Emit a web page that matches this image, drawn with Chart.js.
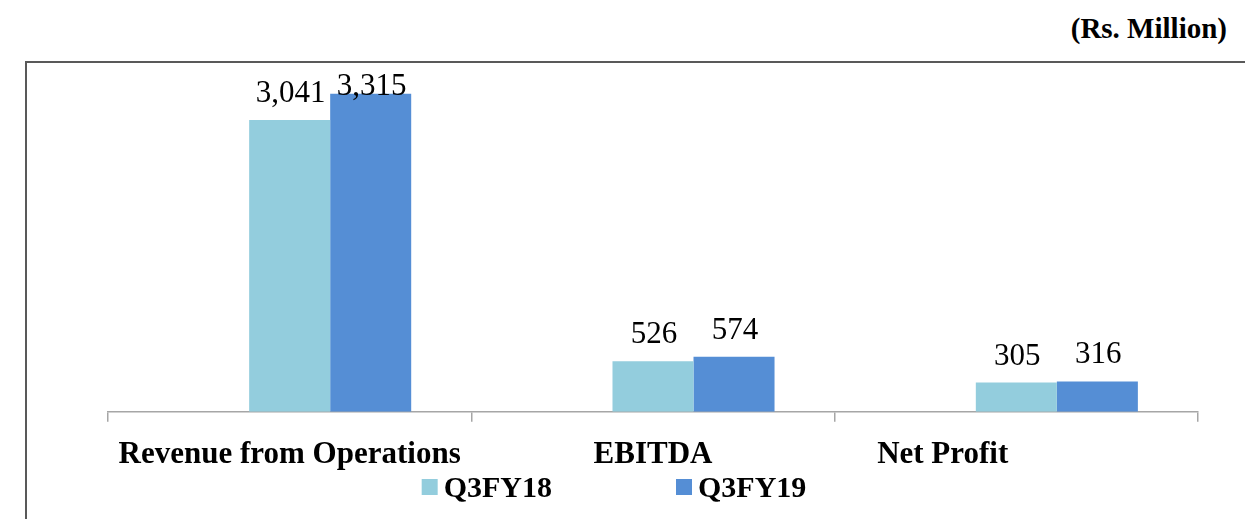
<!DOCTYPE html>
<html>
<head>
<meta charset="utf-8">
<script src="https://cdn.jsdelivr.net/npm/chart.js@4/dist/chart.umd.min.js"></script>
<style>
  html, body { margin: 0; padding: 0; background: #fff; overflow: hidden; }
  #wrap { position: relative; width: 1245px; height: 519px; }
  #frame {
    position: absolute; left: 25px; top: 61px; width: 1400px; height: 600px;
    border-left: 2px solid #595959; border-top: 2px solid #595959;
  }
  #unit {
    position: absolute; right: 18px; top: 14px;
    font: bold 29px/29px "Liberation Serif", "Times New Roman", serif; color: #000;
  }
  #chart { position: absolute; left: 0; top: 0; }
</style>
</head>
<body>
<div id="wrap">
  <div id="frame"></div>
  <div id="unit">(Rs. Million)</div>
  <canvas id="chart" width="1245" height="519"></canvas>
</div>
<script>
const categories = ['Revenue from Operations', 'EBITDA', 'Net Profit'];
const seriesNames = ['Q3FY18', 'Q3FY19'];
const q3fy18 = [3041, 526, 305];
const q3fy19 = [3315, 574, 316];
const seriesColors = ['#93cddd', '#558ed5'];

const serif = '"Liberation Serif", "Times New Roman", serif';

// value labels above each bar (pushed down when they would leave the plot)
const valueLabels = {
  id: 'valueLabels',
  afterDatasetsDraw(chart) {
    const ctx = chart.ctx;
    ctx.save();
    ctx.font = '31px ' + serif;
    ctx.fillStyle = '#000';
    ctx.textAlign = 'center';
    ctx.textBaseline = 'alphabetic';
    chart.data.datasets.forEach((ds, i) => {
      if (!ds.label) return;
      chart.getDatasetMeta(i).data.forEach((bar, j) => {
        const v = ds.data[j];
        let y = bar.y - 18;
        y = Math.max(y, chart.chartArea.top + 19);
        ctx.fillText(v.toLocaleString('en-US'), bar.x + 1, y);
      });
    });
    ctx.restore();
  }
};

// legend drawn by hand so the wide gap between items can be matched
const legendRow = {
  id: 'legendRow',
  afterDraw(chart) {
    const ctx = chart.ctx;
    ctx.save();
    ctx.font = 'bold 30px ' + serif;
    ctx.textBaseline = 'alphabetic';
    const box = 16, gap = 6, between = 124;
    const widths = seriesNames.map(n => box + gap + ctx.measureText(n).width);
    const total = widths.reduce((a, b) => a + b, 0) + between * (seriesNames.length - 1);
    let x = 614 - total / 2;
    const baseline = 497;
    seriesNames.forEach((n, i) => {
      ctx.fillStyle = seriesColors[i];
      ctx.fillRect(x, baseline - 18, box, box);
      ctx.fillStyle = '#000';
      ctx.fillText(n, x + box + gap, baseline);
      x += widths[i] + between;
    });
    ctx.restore();
  }
};

new Chart(document.getElementById('chart'), {
  type: 'bar',
  data: {
    labels: categories,
    datasets: [
      // empty leading series keeps the pair right of the category centre
      { label: '', data: [null, null, null], backgroundColor: 'transparent' },
      { label: seriesNames[0], data: q3fy18, backgroundColor: seriesColors[0] },
      { label: seriesNames[1], data: q3fy19, backgroundColor: seriesColors[1] }
    ]
  },
  options: {
    responsive: false,
    devicePixelRatio: 1,
    animation: false,
    categoryPercentage: 0.669,
    barPercentage: 1,
    layout: { padding: { left: 108, right: 47, top: 76, bottom: 30 } },
    plugins: {
      legend: { display: false },
      tooltip: { enabled: false }
    },
    scales: {
      y: { display: false, min: 0, max: 3500 },
      x: {
        grid: { drawOnChartArea: false, drawTicks: true, tickLength: 10, color: '#a6a6a6', lineWidth: 1.5 },
        border: { color: '#a6a6a6', width: 1.5 },
        ticks: {
          padding: 15,
          maxRotation: 0,
          autoSkip: false,
          color: '#000',
          font: { family: serif, size: 31, weight: 'bold' },
          callback: function (value, index) {
            const label = categories[index];
            return label === 'Net Profit' ? label + ' '.repeat(19) : label;
          }
        }
      }
    }
  },
  plugins: [valueLabels, legendRow]
});
</script>
</body>
</html>
